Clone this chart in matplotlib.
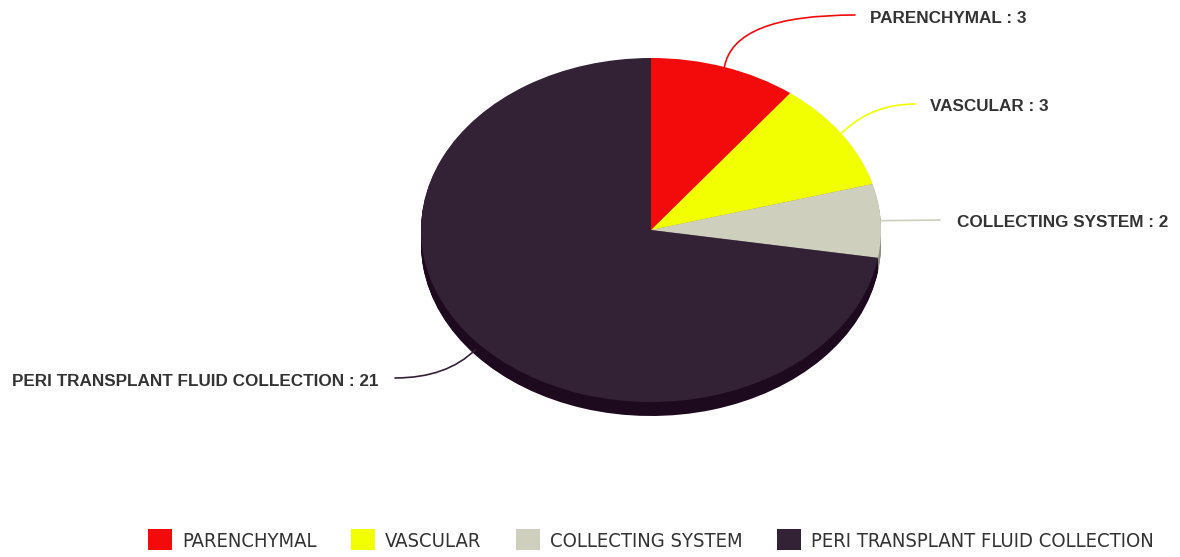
import matplotlib
matplotlib.use("Agg")
import matplotlib.pyplot as plt
import numpy as np

# Complication counts
categories = ["PARENCHYMAL", "VASCULAR", "COLLECTING SYSTEM", "PERI TRANSPLANT FLUID COLLECTION"]
counts = [3, 3, 2, 21]
colors = ["#f30a0a", "#f2ff00", "#cfcfbd", "#332136"]
side_colors = ["#a00606", "#a3ab00", "#8d8d80", "#1e0a1e"]

W, H = 1180, 557
SY = 172 / 230.0          # vertical squash of the tilted pie
cx, cy_px = 651, 230      # pie centre in pixels (from top)
R = 230
DEPTH = 14


def py(y_px):
    # pixel row -> data y
    return (H - y_px) / SY


fig = plt.figure(figsize=(W / 100, H / 100), dpi=100)
ax = fig.add_axes([0, 0, 1, 1])

# side of the pie: stacked copies shifted downwards
for d in np.linspace(DEPTH, 1, 14):
    ax.pie(counts, colors=side_colors, startangle=90, counterclock=False,
           radius=R, center=(cx, py(cy_px + d)),
           wedgeprops=dict(linewidth=0, antialiased=True))

wedges, _ = ax.pie(counts, colors=colors, startangle=90, counterclock=False,
                   radius=R, center=(cx, py(cy_px)),
                   wedgeprops=dict(linewidth=0, antialiased=True))

ax.set_aspect("auto")
ax.set_xlim(0, W)
ax.set_ylim(0, H / SY)
ax.axis("off")

# data labels with connectors
label_pos = [(870, 18), (930, 106), (957, 222), (378, 382)]
line_end = [(855, 15), (915, 104), (940, 220), (395, 378)]
conn = ["angle3,angleA=0,angleB=80", "angle3,angleA=0,angleB=45",
        "arc3,rad=0", "angle3,angleA=0,angleB=45"]
line_colors = ["#f30a0a", "#f2ff00", "#cfcfbd", "#332136"]

total = sum(counts)
cum = np.cumsum([0] + counts)
for i, (name, val) in enumerate(zip(categories, counts)):
    mid = (cum[i] + val / 2) / total * 2 * np.pi
    ax_x = cx + R * np.sin(mid)
    ax_y = cy_px - R * SY * np.cos(mid)
    if i == 3:
        ax_y += 8
    ax.annotate("", xy=(ax_x, py(ax_y)), xytext=(line_end[i][0], py(line_end[i][1])),
                arrowprops=dict(arrowstyle="-", color=line_colors[i], lw=1.2,
                                connectionstyle=conn[i], shrinkA=0, shrinkB=0))
    ha = "right" if i == 3 else "left"
    ax.text(label_pos[i][0], py(label_pos[i][1]), f"{name} : {val}",
            ha=ha, va="center", fontsize=12.3, fontweight="bold",
            color="#333333", family=["Liberation Sans", "DejaVu Sans"])

leg = fig.legend(wedges, categories, loc="center", bbox_to_anchor=(651 / W, 1 - 540 / H),
                 ncol=4, frameon=False, handlelength=1.2, handleheight=1.2,
                 handletextpad=0.5, columnspacing=1.7,
                 prop=dict(family=["DejaVu Sans"], stretch="condensed", size=14.5))
for t in leg.get_texts():
    t.set_color("#333333")

fig.savefig("out.png", dpi=100)
